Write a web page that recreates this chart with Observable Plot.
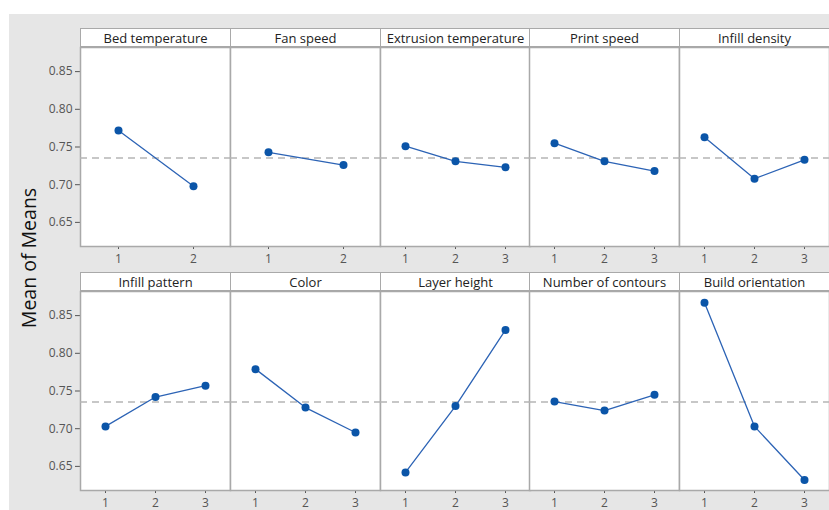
<!DOCTYPE html>
<html>
<head>
<meta charset="utf-8">
<script src="https://cdn.jsdelivr.net/npm/d3@7"></script>
<script src="https://cdn.jsdelivr.net/npm/@observablehq/plot@0.6"></script>
<style>
  html, body { margin: 0; padding: 0; background: #ffffff; }
  #root { position: relative; width: 829px; height: 510px; overflow: hidden; font-family: "Open Sans", "Noto Sans", sans-serif; }
  #bg { position: absolute; left: 9px; top: 14px; width: 820px; height: 496px; background: #e6e6e6; }
  .hdr { position: absolute; height: 19px; box-sizing: border-box; background: #fff; border: 1px solid #a9a9a9;
         font-size: 13px; line-height: 19px; text-align: center; color: #222; white-space: nowrap; overflow: hidden; }
  .pan { position: absolute; }
  #ytitle { position: absolute; left: 28px; top: 258px; transform: translate(-50%, -50%) rotate(-90deg);
            font-size: 19.5px; color: #111; white-space: nowrap; }
</style>
</head>
<body>
<div id="root"><div id="bg"></div><div id="ytitle">Mean of Means</div></div>
<script>
const factors = ["Bed temperature", "Fan speed", "Extrusion temperature", "Print speed", "Infill density",
                 "Infill pattern", "Color", "Layer height", "Number of contours", "Build orientation"];
const levels = [[1, 2], [1, 2], [1, 2, 3], [1, 2, 3], [1, 2, 3],
                [1, 2, 3], [1, 2, 3], [1, 2, 3], [1, 2, 3], [1, 2, 3]];
const bedTemperature = [0.772, 0.698];
const fanSpeed = [0.743, 0.726];
const extrusionTemperature = [0.751, 0.731, 0.723];
const printSpeed = [0.755, 0.731, 0.718];
const infillDensity = [0.763, 0.708, 0.733];
const infillPattern = [0.703, 0.742, 0.757];
const color = [0.779, 0.728, 0.695];
const layerHeight = [0.642, 0.730, 0.831];
const numberOfContours = [0.736, 0.724, 0.745];
const buildOrientation = [0.867, 0.703, 0.632];
const grandMean = 0.7355;
const yTicks = [0.65, 0.70, 0.75, 0.80, 0.85];

const means = [bedTemperature, fanSpeed, extrusionTemperature, printSpeed, infillDensity,
               infillPattern, color, layerHeight, numberOfContours, buildOrientation];

const root = document.getElementById("root");
const colLeft = [80, 230, 380, 529, 679];
const rowTop = [28, 272];
const panelW = 150, panelH = 199, mb = 24;

factors.forEach((name, i) => {
  const r = Math.floor(i / 5), c = i % 5;
  const data = levels[i].map((lv, k) => ({level: lv, mean: means[i][k]}));
  const hdr = document.createElement("div");
  hdr.className = "hdr";
  hdr.textContent = name;
  hdr.style.left = colLeft[c] + "px";
  hdr.style.top = rowTop[r] + "px";
  hdr.style.width = (c === 4 ? 829 - colLeft[c] + 1 : panelW + 1) + "px";
  root.appendChild(hdr);

  const ml = c === 0 ? 60 : 0;
  const w = c === 4 ? 829 - colLeft[c] : panelW;
  const chart = Plot.plot({
    width: w + ml,
    height: panelH + mb,
    marginLeft: ml, marginRight: 0, marginTop: 0, marginBottom: mb,
    style: {background: "transparent", fontFamily: "'Open Sans', 'Noto Sans', sans-serif", fontSize: "12px", color: "#555", overflow: "visible"},
    x: {type: "point", domain: levels[i], padding: 0.5, label: null, tickSize: 3, tickPadding: 5},
    y: {domain: [0.618, 0.882], label: null, axis: c === 0 ? "left" : null, ticks: yTicks, tickFormat: ".2f", tickSize: 5, tickPadding: 3},
    marks: [
      Plot.frame({fill: "white", stroke: "#a9a9a9", strokeWidth: 1.5}),
      Plot.ruleY([grandMean], {stroke: "#b5b5b5", strokeWidth: 1.6, strokeDasharray: "7,5"}),
      Plot.line(data, {x: "level", y: "mean", stroke: "#2c63b5", strokeWidth: 1.3}),
      Plot.dot(data, {x: "level", y: "mean", r: 4, fill: "#0b55a8", stroke: "none"})
    ]
  });
  chart.classList.add("pan");
  chart.style.left = (colLeft[c] - ml) + "px";
  chart.style.top = (rowTop[r] + 19) + "px";
  root.appendChild(chart);
});
</script>
</body>
</html>
